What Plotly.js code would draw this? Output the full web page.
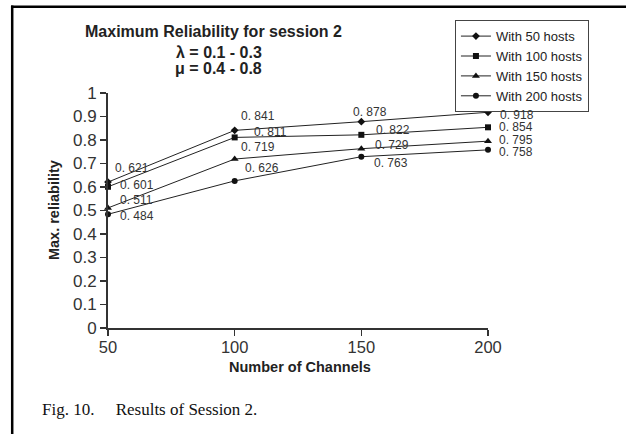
<!DOCTYPE html>
<html>
<head>
<meta charset="utf-8">
<script src="https://cdn.plot.ly/plotly-3.0.1.min.js"></script>
<style>html,body{margin:0;padding:0;background:#fff;}#chart{width:626px;height:434px;}</style>
</head>
<body>
<div id="chart"></div>
<script>
// ---- data ----
var channels = [50, 100, 150, 200];
var seriesNames = ['With 50 hosts', 'With 100 hosts', 'With 150 hosts', 'With 200 hosts'];
var hosts50  = [0.621, 0.841, 0.878, 0.918];
var hosts100 = [0.601, 0.811, 0.822, 0.854];
var hosts150 = [0.511, 0.719, 0.763, 0.795];
var hosts200 = [0.484, 0.626, 0.729, 0.758];
// point labels exactly as printed in the figure
var labels50  = ['0. 621', '0. 841', '0. 878', '0. 918'];
var labels100 = ['0. 601', '0. 811', '0. 822', '0. 854'];
var labels150 = ['0. 511', '0. 719', '0. 729', '0. 795'];
var labels200 = ['0. 484', '0. 626', '0. 763', '0. 758'];
var yTickVals = [0, 0.1, 0.2, 0.3, 0.4, 0.5, 0.6, 0.7, 0.8, 0.9, 1];
var yTickText = ['0', '0.1', '0.2', '0.3', '0.4', '0.5', '0.6', '0.7', '0.8', '0.9', '1'];
var xTickVals = [50, 100, 150, 200];

// ---- styling / placement (not data) ----
var FONT = 'Liberation Sans, Arial, Helvetica, sans-serif';
var symbols = ['diamond', 'square', 'triangle-up', 'circle'];
var msizes = [6, 6, 7, 6];
// label offsets in pixels [dx, dy(down)]
var labelOffsets = [
  [[5, -14], [4, -14], [-10, -10], [10, 3]],
  [[10, -2], [17, -5], [13, -5], [9, 0]],
  [[10, -8], [4, -12], [12, -4], [9, -1]],
  [[10, 2], [8, -13], [11, 6], [9, 2]]
];

var allY = [hosts50, hosts100, hosts150, hosts200];
var allLabels = [labels50, labels100, labels150, labels200];

var traces = allY.map(function (ys, i) {
  return {
    x: channels, y: ys, name: seriesNames[i], type: 'scatter', mode: 'lines+markers',
    line: {color: '#222', width: 1},
    marker: {symbol: symbols[i], size: msizes[i], color: '#111'},
    cliponaxis: false
  };
});

var annotations = [];
allY.forEach(function (ys, i) {
  ys.forEach(function (v, j) {
    annotations.push({
      x: channels[j], y: v, xref: 'x', yref: 'y', text: allLabels[i][j], showarrow: false,
      xanchor: 'left', yanchor: 'middle',
      xshift: labelOffsets[i][j][0], yshift: -labelOffsets[i][j][1],
      font: {family: FONT, size: 12, color: '#333'}
    });
  });
});

annotations.push(
  {xref: 'paper', yref: 'paper', x: 0.292, y: 1.174, text: '<b>\u03bb = 0.1 - 0.3</b>', showarrow: false,
   xanchor: 'center', yanchor: 'middle', font: {family: FONT, size: 16, color: '#222'}},
  {xref: 'paper', yref: 'paper', x: 0.292, y: 1.106, text: '<b>\u03bc = 0.4 - 0.8</b>', showarrow: false,
   xanchor: 'center', yanchor: 'middle', font: {family: FONT, size: 16, color: '#222'}},
  {xref: 'paper', yref: 'paper', x: 0.504, y: -0.166, text: '<b>Number of Channels</b>', showarrow: false,
   xanchor: 'center', yanchor: 'middle', font: {family: FONT, size: 14.5, color: '#222'}},
  {xref: 'paper', yref: 'paper', x: -0.142, y: 0.502, text: '<b>Max. reliability</b>', showarrow: false,
   textangle: -90, xanchor: 'center', yanchor: 'middle', font: {family: FONT, size: 14.5, color: '#222'}},
  {xref: 'paper', yref: 'paper', x: -0.179, y: -0.3447,
   text: 'Fig. 10.\u00a0\u00a0\u00a0\u00a0\u00a0Results of Session 2.', showarrow: false,
   xanchor: 'left', yanchor: 'middle', font: {family: 'Liberation Serif, Times New Roman, serif', size: 17, color: '#111'}}
);

var layout = {
  width: 626, height: 434,
  margin: {l: 108, r: 138, t: 93, b: 106, pad: 0},
  paper_bgcolor: '#fff', plot_bgcolor: '#fff',
  font: {family: FONT, color: '#333'},
  title: {text: '<b>Maximum Reliability for session 2</b>', xref: 'container', yref: 'container',
          x: 213.5 / 626, y: 1 - 31 / 434, xanchor: 'center', yanchor: 'middle',
          font: {family: FONT, size: 16, color: '#222'}},
  showlegend: true,
  legend: {x: 0.913, y: 1.31, xanchor: 'left', yanchor: 'top', bgcolor: '#fff',
           bordercolor: '#444', borderwidth: 1, font: {family: FONT, size: 13, color: '#222'},
           tracegroupgap: 0},
  xaxis: {range: [50, 200], tickvals: xTickVals, ticktext: xTickVals.map(String),
          showgrid: false, zeroline: false, showline: true, linecolor: '#333', linewidth: 2,
          ticks: 'outside', ticklen: 6, tickwidth: 1.5, tickcolor: '#333', ticklabelstandoff: -3,
          tickfont: {family: FONT, size: 16.5, color: '#333'}, fixedrange: true},
  yaxis: {range: [0, 1], tickvals: yTickVals, ticktext: yTickText,
          showgrid: false, zeroline: false, showline: true, linecolor: '#333', linewidth: 2,
          ticks: 'outside', ticklen: 6, tickwidth: 1.5, tickcolor: '#333',
          tickfont: {family: FONT, size: 17, color: '#333'}, fixedrange: true},
  annotations: annotations,
  shapes: [
    {type: 'line', xref: 'paper', yref: 'paper', x0: -0.2521, x1: -0.2521, y0: 1.372, y1: -0.477,
     line: {color: '#000', width: 2.5}},
    {type: 'line', xref: 'paper', yref: 'paper', x0: -0.2553, x1: 1.4, y0: 1.3668, y1: 1.3668,
     line: {color: '#000', width: 2.5}}
  ]
};

Plotly.newPlot('chart', traces, layout, {staticPlot: true, displayModeBar: false});
</script>
</body>
</html>
